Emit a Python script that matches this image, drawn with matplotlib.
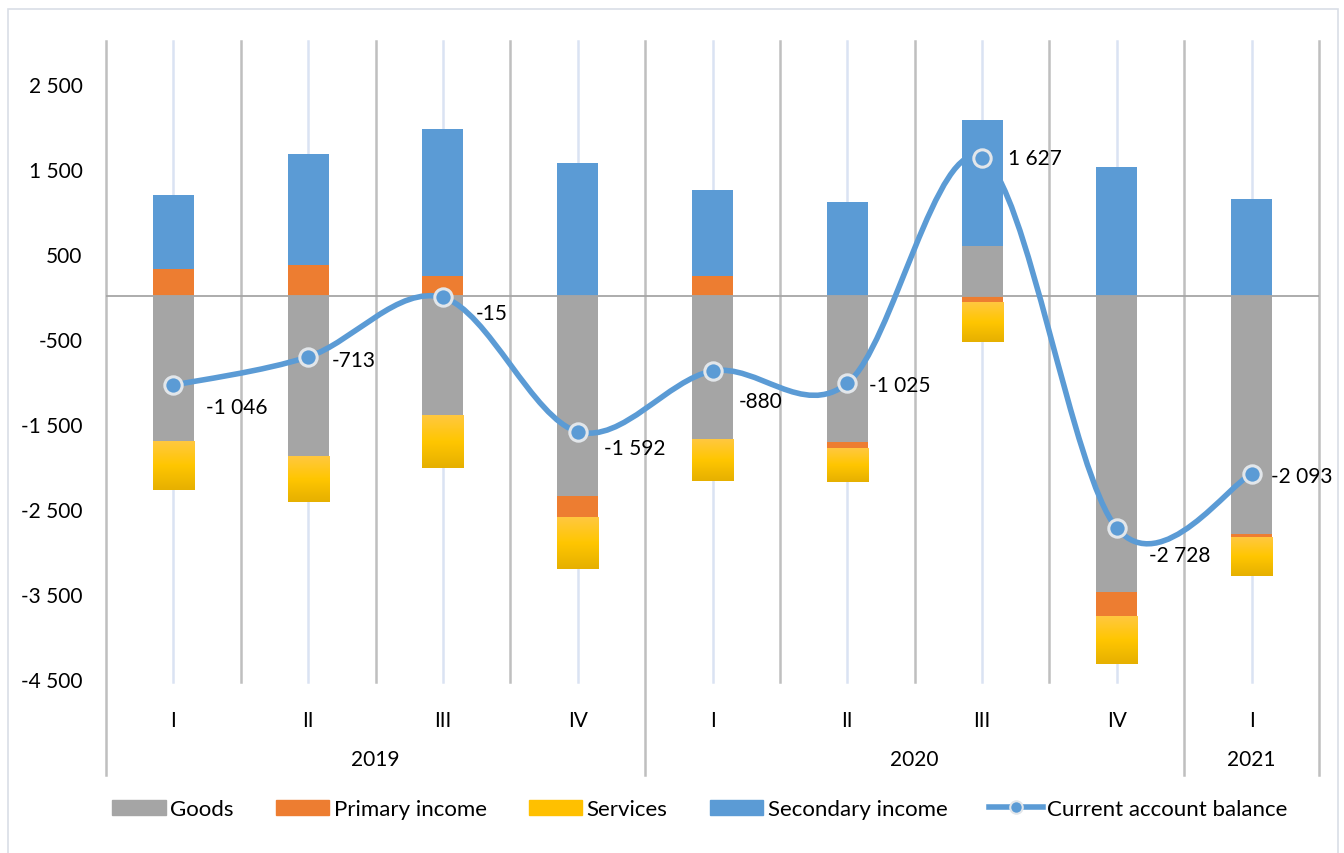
import numpy as np
import matplotlib
matplotlib.use("Agg")
import matplotlib.pyplot as plt
from matplotlib.path import Path
from matplotlib.patches import PathPatch, Patch, Rectangle
from matplotlib.lines import Line2D
from matplotlib.colors import LinearSegmentedColormap
import matplotlib.transforms as mtransforms

plt.rcParams['font.family'] = ['Lato', 'DejaVu Sans']

# data
quarters = ['I', 'II', 'III', 'IV', 'I', 'II', 'III', 'IV', 'I']
years = ['2019', '2020', '2021']
year_spans = [(0, 3), (4, 7), (8, 8)]
goods = [-1718, -1894, -1400, -2352, -1694, -1717, 588, -3481, -2799]
primary = [318, 365, 235, -259, 235, -82, -82, -294, -47]
services = [-565, -529, -623, -600, -482, -388, -459, -553, -447]
secondary = [870, 1306, 1729, 1564, 1011, 1105, 1482, 1517, 1141]
balance = [-1046, -713, -15, -1592, -880, -1025, 1627, -2728, -2093]

# label offsets in pixels (dx, dy)
lab_off = [(33, -22), (24, -3), (33, -16), (26, -16), (26, -30),
           (22, -2), (26, 0), (32, -27), (19, -2)]

C_GOODS = '#A5A5A5'
C_PRIM = '#ED7D31'
C_SERV = '#FFC000'
C_SEC = '#5B9BD5'
FS = 15

fig = plt.figure(figsize=(13.44, 8.54), dpi=100)
ax = fig.add_axes([106/1344, 1-680/854, (1319-106)/1344, (680-42)/854])

x = np.arange(len(quarters))
w = 0.305
pos_base = np.zeros(len(x))
neg_base = np.zeros(len(x))
serv_boxes = []
for vals, col, name in [(goods, C_GOODS, 'Goods'), (primary, C_PRIM, 'Primary income'),
                        (services, C_SERV, 'Services'), (secondary, C_SEC, 'Secondary income')]:
    v = np.array(vals, dtype=float)
    base = np.where(v >= 0, pos_base, neg_base)
    ax.bar(x, v, w, bottom=base, color=col, zorder=3, linewidth=0)
    if name == 'Services':
        serv_boxes = [(xi, b, b + vi) for xi, b, vi in zip(x, base, v)]
    pos_base = pos_base + np.where(v >= 0, v, 0)
    neg_base = neg_base + np.where(v < 0, v, 0)

# gradient fill on the services bars
grad_cmap = LinearSegmentedColormap.from_list('g', ['#E6B000', '#FFC600', '#FFC83F'])
grad = np.linspace(0, 1, 64).reshape(-1, 1)
for xi, b, t in serv_boxes:
    lo, hi = min(b, t), max(b, t)
    ax.imshow(grad, cmap=grad_cmap, origin='lower', aspect='auto', zorder=3.5,
              extent=[xi - w/2, xi + w/2, lo, hi], interpolation='bicubic')

# smoothed line (Excel style bezier through points)
px = x.astype(float)
py = np.array(balance, dtype=float)
verts = [(px[0], py[0])]
codes = [Path.MOVETO]
n = len(px)
for i in range(n - 1):
    p0 = np.array([px[max(i-1, 0)], py[max(i-1, 0)]])
    p1 = np.array([px[i], py[i]])
    p2 = np.array([px[i+1], py[i+1]])
    p3 = np.array([px[min(i+2, n-1)], py[min(i+2, n-1)]])
    c1 = p1 + (p2 - p0) / 6
    c2 = p2 - (p3 - p1) / 6
    verts += [tuple(c1), tuple(c2), tuple(p2)]
    codes += [Path.CURVE4] * 3
ax.add_patch(PathPatch(Path(verts, codes), facecolor='none', edgecolor=C_SEC,
                       lw=4, zorder=5, capstyle='round'))
ax.plot(x, balance, ls='none', marker='o', ms=12.5, mfc=C_SEC, mec='#E2E6EA',
        mew=2.2, zorder=6)

for xi, v, (dx, dy) in zip(x, balance, lab_off):
    ax.annotate(f"{v:,}".replace(",", " "), (xi, v), xytext=(dx, dy),
                textcoords='offset pixels', ha='left', va='center',
                fontsize=FS, color='black', zorder=7)

# axes styling
ax.set_xlim(-0.5, 8.5)
ax.set_ylim(-4500, 3000)
ax.set_yticks(np.arange(-4500, 3000, 1000))
ax.set_yticklabels([f"{t:,}".replace(",", " ") for t in range(-4500, 3000, 1000)])
ax.tick_params(axis='y', length=0, pad=17, labelsize=FS)
ax.set_xticks(x)
ax.set_xticklabels(quarters)
ax.tick_params(axis='x', length=0, pad=22, labelsize=FS)
for s in ax.spines.values():
    s.set_visible(False)
ax.axhline(0, color='#A6A6A6', lw=1.3, zorder=4)

trans = mtransforms.blended_transform_factory(ax.transData, ax.transAxes)
for xi in x:
    ax.plot([xi, xi], [-0.005, 1], color='#DAE3F3', lw=1.8, transform=trans, zorder=1, clip_on=False)
year_edges = [-0.5, 3.5, 7.5, 8.5]
for b in np.arange(-0.5, 9, 1.0):
    bottom = -0.151 if b in year_edges else -0.005
    ax.plot([b, b], [bottom, 1], color='#BFBFBF', lw=1.8, transform=trans, zorder=1, clip_on=False)
for yr, (a, b) in zip(years, year_spans):
    ax.text((a + b) / 2, -0.125, yr, transform=trans, ha='center', va='center', fontsize=FS)

# outer chart border
fig.patches.append(Rectangle((8/1344, -0.05), (1338-8)/1344, 1.05 - 10/854,
                             transform=fig.transFigure, fill=False,
                             edgecolor='#D9DEE6', lw=1.2))

handles = [Patch(color=C_GOODS), Patch(color=C_PRIM), Patch(color=C_SERV), Patch(color=C_SEC),
           Line2D([], [], color=C_SEC, lw=4, marker='o', ms=9, mfc=C_SEC, mec='#E2E6EA', mew=1.5)]
labels = ['Goods', 'Primary income', 'Services', 'Secondary income', 'Current account balance']
fig.legend(handles, labels, loc='center', bbox_to_anchor=(700/1344, 1-810/854), ncol=5,
           frameon=False, fontsize=16, handlelength=2.4, handleheight=0.65,
           columnspacing=1.9, handletextpad=0.2)

fig.savefig('out.png', dpi=100)
